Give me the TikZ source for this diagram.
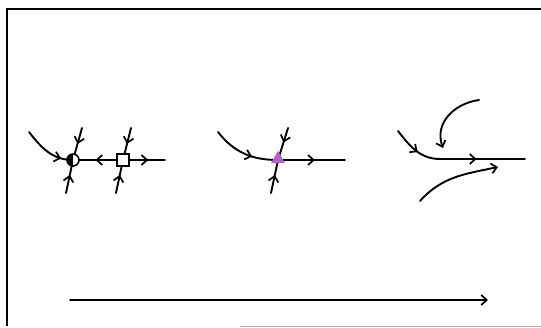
\documentclass[tikz,border=0pt]{standalone}
\usepackage{tikz}
\usetikzlibrary{arrows.meta,decorations.markings,shapes.geometric}

\tikzset{
    flow/.style={line width=1.9pt,line cap=round},
    tip/.style={-{Straight Barb[length=5.5pt,width=10pt,line width=1.7pt]}},
    midarrow/.style={postaction={decorate},decoration={markings,
        mark=at position #1 with {\arrow{Straight Barb[length=5.5pt,width=10pt,line width=1.7pt]}}}},
    halfnode/.style={circle,draw,line width=1.6pt,fill=white,minimum size=12pt,inner sep=0pt,
        path picture={\fill[black] (path picture bounding box.north) rectangle (path picture bounding box.south west);}},
    boxnode/.style={rectangle,draw,line width=1.6pt,fill=white,minimum size=11.5pt,inner sep=0pt},
    cusp/.style={regular polygon,regular polygon sides=3,minimum size=16pt,inner sep=0pt,
        fill={rgb,255:red,182;green,95;blue,207}}
}

\begin{document}
\begin{tikzpicture}[x=1pt,y=1pt]
    \useasboundingbox (0,0) rectangle (541,327);
    % frame
    \draw[line width=2pt] (7,1) -- (7,318) -- (548,318);
    \draw[black!30,line width=1pt] (240,0.5) -- (541,0.5);

    % first pair: half-filled point and square point
    \coordinate (c1) at (73,167);
    \coordinate (s1) at (123,167);
    \coordinate (e1) at (165,167);
    \coordinate (a1) at (29,195);
    \coordinate (t1) at (82,199);
    \coordinate (b1) at (66,134);
    \coordinate (t2) at (131,199);
    \coordinate (b2) at (116,134);
    \draw[flow,midarrow=0.78] (a1) to[out=-52,in=180] (c1);
    \draw[flow,midarrow=0.55] (s1) -- (c1);
    \draw[flow,midarrow=0.6] (s1) -- (e1);
    \draw[flow,midarrow=0.5] (t1) -- (c1);
    \draw[flow,midarrow=0.55] (b1) -- (c1);
    \draw[flow,midarrow=0.5] (t2) -- (s1);
    \draw[flow,midarrow=0.55] (b2) -- (s1);
    \node[halfnode] (sad1) at (c1) {};
    \node[boxnode] (sad2) at (s1) {};

    % second: triangle point
    \coordinate (p2) at (278,167);
    \coordinate (a2) at (218,195);
    \coordinate (e2) at (345,167);
    \coordinate (t3) at (288,199);
    \coordinate (b3) at (271,134);
    \draw[flow,midarrow=0.62] (a2) to[out=-52,in=180] (p2);
    \draw[flow,midarrow=0.55] (p2) -- (e2);
    \draw[flow,midarrow=0.45] (t3) -- (p2);
    \draw[flow,midarrow=0.55] (b3) -- (p2);
    \node[cusp] (tri) at (278,168) {};

    % third: after the point has gone
    \coordinate (a3) at (398,196);
    \coordinate (m3) at (440,168);
    \coordinate (e3) at (525,168);
    \coordinate (u3) at (479,227);
    \coordinate (v3) at (443,179);
    \coordinate (l3) at (420,126);
    \coordinate (r3) at (498,160);
    \draw[flow,midarrow=0.55] (a3) to[out=-52,in=180] (m3);
    \draw[flow,midarrow=0.43] (m3) -- (e3);
    \draw[flow,tip] (u3) to[out=188,in=110,looseness=1.1] (v3);
    \draw[flow,tip] (l3) to[out=48,in=192] (r3);

    % long arrow
    \coordinate (z0) at (70,27);
    \coordinate (z1) at (488,27);
    \draw[flow,tip] (z0) -- (z1);
\end{tikzpicture}
\end{document}
